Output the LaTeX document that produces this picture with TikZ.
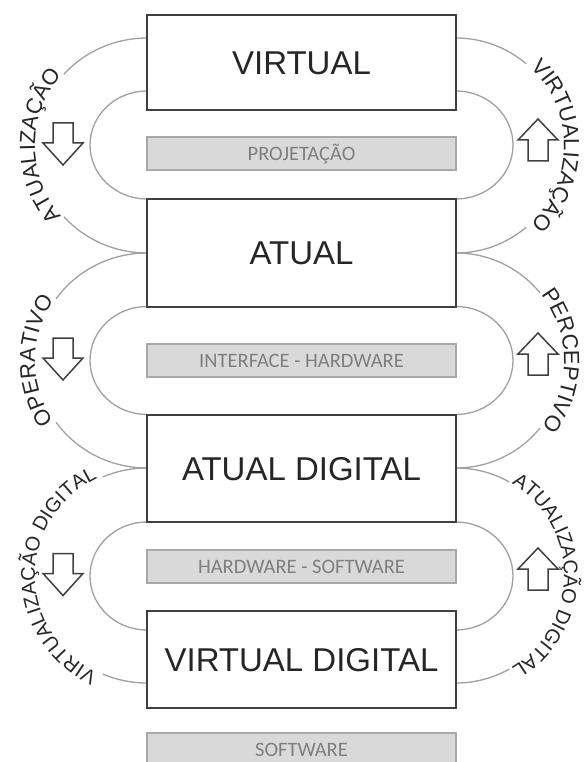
\documentclass[tikz,border=0pt]{standalone}
\usepackage{fontspec}
\setmainfont{Liberation Sans}
\newfontfamily\barfont{Carlito}
\usetikzlibrary{decorations.text}
\definecolor{boxline}{HTML}{404040}
\definecolor{arcline}{HTML}{A0A0A0}
\definecolor{barfill}{HTML}{D9D9D9}
\definecolor{barline}{HTML}{A8A8A8}
\definecolor{bartext}{HTML}{7F7F7F}
\definecolor{arctext}{HTML}{262626}
\begin{document}
\begin{tikzpicture}[x=1pt,y=1pt,
  bigbox/.style={draw=boxline, line width=2pt, fill=white, minimum width=309pt, inner sep=0pt,
    font=\fontsize{33}{33}\selectfont, text=black!85, text height=23.6pt, text depth=0pt},
  bar/.style={draw=barline, line width=1.2pt, fill=barfill, minimum width=309pt, minimum height=33pt, inner sep=0pt,
    font=\barfont\fontsize{20.5}{20.5}\selectfont, text=bartext, text height=13.2pt, text depth=0pt},
  loopline/.style={draw=arcline, line width=1.3pt},
  arrowst/.style={draw=boxline, line width=1.5pt, fill=white, line join=miter},
  dnarrow/.pic={\path[arrowst] (-10,21) -- (10,21) -- (10,1) -- (20,1) -- (0,-21) -- (-20,1) -- (-10,1) -- cycle;},
  uparrow/.pic={\path[arrowst] (-10,-21) -- (10,-21) -- (10,0) -- (20,0) -- (0,21) -- (-20,0) -- (-10,0) -- cycle;},
  outerL/.style={x radius=111, y radius=107.5},
  outerR/.style={x radius=108, y radius=107.5},
  inner/.style={x radius=57, y radius=54},
  looptext/.style 2 args={decorate, decoration={text along path, text={#1}, text align=center, text color=arctext, raise=#2}},
]
\useasboundingbox (0,0) rectangle (585,-762);
\clip (0,0) rectangle (585,-762);

% outer loop end points
\coordinate (L1t) at (147,-38);  \coordinate (L1b) at (147,-253);
\coordinate (L2t) at (147,-253); \coordinate (L2b) at (147,-468);
\coordinate (L3t) at (147,-468); \coordinate (L3b) at (147,-683);
\coordinate (R1t) at (456,-38);  \coordinate (R1b) at (456,-253);
\coordinate (R2t) at (456,-253); \coordinate (R2b) at (456,-468);
\coordinate (R3t) at (456,-468); \coordinate (R3b) at (456,-683);
% inner loop end points
\coordinate (Li1) at (147,-91);  \coordinate (Ri1) at (456,-91);
\coordinate (Li2) at (147,-306.5); \coordinate (Ri2) at (456,-306.5);
\coordinate (Li3) at (147,-522); \coordinate (Ri3) at (456,-522);

% inner loops
\draw[loopline] (Li1) arc[start angle=90, end angle=270, inner];
\draw[loopline] (Li2) arc[start angle=90, end angle=270, inner];
\draw[loopline] (Li3) arc[start angle=90, end angle=270, inner];
\draw[loopline] (Ri1) arc[start angle=90, end angle=-90, inner];
\draw[loopline] (Ri2) arc[start angle=90, end angle=-90, inner];
\draw[loopline] (Ri3) arc[start angle=90, end angle=-90, inner];

% outer loops, broken where the text lies
\draw[loopline] (L1t) arc[start angle=90, end angle=138.5, outerL] (L1b) arc[start angle=270, end angle=221.5, outerL];
\draw[loopline] (L2t) arc[start angle=90, end angle=145, outerL] (L2b) arc[start angle=270, end angle=215, outerL];
\draw[loopline] (L3t) arc[start angle=90, end angle=113.5, outerL] (L3b) arc[start angle=270, end angle=246.5, outerL];
\draw[loopline] (R1t) arc[start angle=90, end angle=49.5, outerR] (R1b) arc[start angle=-90, end angle=-49.5, outerR];
\draw[loopline] (R2t) arc[start angle=90, end angle=39, outerR] (R2b) arc[start angle=-90, end angle=-39, outerR];
\draw[loopline] (R3t) arc[start angle=90, end angle=60.5, outerR] (R3b) arc[start angle=-90, end angle=-60.5, outerR];

% texts along the outer loops
\path[looptext={|\fontsize{22}{22}\selectfont|ATUALIZAÇÃO}{1pt}] (L1b) arc[start angle=270, end angle=90, outerL];
\path[looptext={|\fontsize{22}{22}\selectfont|OPERATIVO}{1pt}] (L2b) arc[start angle=270, end angle=90, outerL];
\path[looptext={|\fontsize{20}{20}\selectfont|VIRTUALIZAÇÃO DIGITAL}{1pt}] (L3b) arc[start angle=270, end angle=90, outerL];
\path[looptext={|\fontsize{22}{22}\selectfont|VIRTUALIZAÇÃO}{0pt}] (R1t) arc[start angle=90, end angle=-90, outerR];
\path[looptext={|\fontsize{22}{22}\selectfont|PERCEPTIVO}{0pt}] (R2t) arc[start angle=90, end angle=-90, outerR];
\path[looptext={|\fontsize{20}{20}\selectfont|ATUALIZAÇÃO DIGITAL}{0pt}] (R3t) arc[start angle=90, end angle=-90, outerR];

% boxes
\node[bigbox, minimum height=95pt]  (virt)  at (301.5,-62.5) {VIRTUAL};
\node[bigbox, minimum height=108pt] (atual) at (301.5,-253)  {ATUAL};
\node[bigbox, minimum height=107pt] (atdig) at (301.5,-468.5) {ATUAL DIGITAL};
\node[bigbox, minimum height=97pt]  (vidig) at (301.5,-659.5) {VIRTUAL DIGITAL};

% grey bars
\node[bar] (proj) at (301.5,-153.5) {PROJETAÇÃO};
\node[bar] (inhw) at (301.5,-360.5) {INTERFACE - HARDWARE};
\node[bar] (hwsw) at (301.5,-566.5) {HARDWARE - SOFTWARE};
\node[bar] (soft) at (301.5,-749.5) {SOFTWARE};

% block arrows
\pic (dn1) at (63,-144) {dnarrow};
\pic (dn2) at (63,-359) {dnarrow};
\pic (dn3) at (63,-574.5) {dnarrow};
\pic (up1) at (538,-140) {uparrow};
\pic (up2) at (538,-354) {uparrow};
\pic (up3) at (538,-569) {uparrow};
\end{tikzpicture}
\end{document}
